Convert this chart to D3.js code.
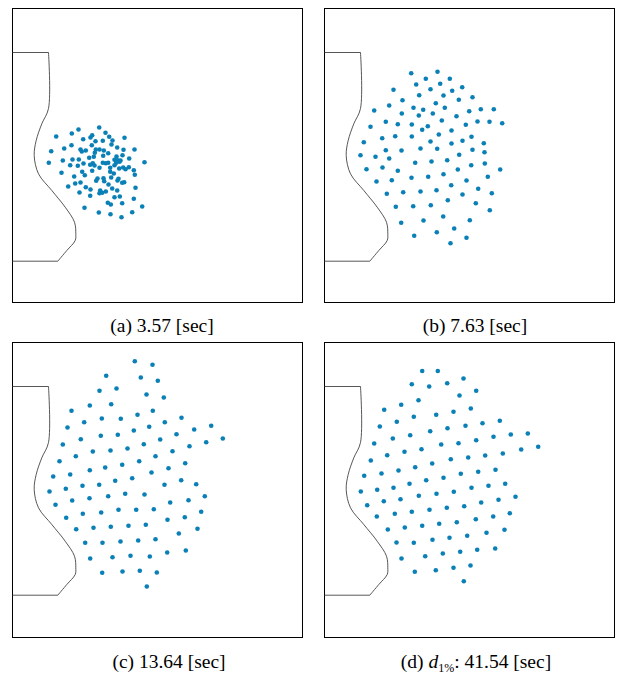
<!DOCTYPE html>
<html>
<head>
<meta charset="utf-8">
<script src="https://cdn.jsdelivr.net/npm/d3@7"></script>
<style>
  body { margin: 0; background: #fff; }
  svg { display: block; }
</style>
</head>
<body>
<svg width="626" height="679"></svg>
<script>
// robot positions per snapshot, panel coords (0..290 x 0..295, y down)
const ptsA = [[86.7,119],[66,121],[59.3,125],[43.7,128],[79.7,126.7],[93,124.3],[78,129],[96.7,128.3],[112,129.3],[70.7,130.7],
  [90.3,132.3],[83,132.7],[100,132],[59,136.7],[79.3,136.7],[99,136],[51.7,140],[104.7,139],[122,141],[38.7,142.7],
  [68,141],[73.3,142],[69.3,143],[83.3,141],[87,141],[91.3,142],[82.3,144.3],[95.7,144.7],[111,141.3],[76.7,149.3],
  [60,151],[66.3,151],[50.3,152],[81.3,148.3],[90.7,147.3],[110,146.7],[104,148],[105.3,151.7],[102,151.3],[108,152],
  [116.7,150],[36.3,154.3],[57.7,156.7],[71,155],[77.7,156.3],[80.3,154.7],[90.3,154.3],[93.3,154.7],[95.7,154.3],[103.7,154.3],
  [107,153.3],[102,156.7],[82,157],[87,159.3],[65.3,157.3],[110.7,159],[116.3,158.7],[132,153.7],[97.7,159.3],[106.7,160],
  [79.7,162.3],[69.7,163.3],[72.3,166.7],[97.7,163.3],[101.3,165],[113,160.7],[49,164.3],[121.3,161.7],[61.7,168],[85,170],
  [91,169.7],[98.7,169],[106,170.3],[122.3,166.3],[83.7,172.3],[91.7,172.7],[105,172],[111.7,173.7],[109.7,174.3],[62.7,175],
  [68,174],[96,176],[55.7,178],[73.3,178.7],[78,181],[99.7,180],[104.7,182],[87.7,182],[93.3,183],[123,179.3],
  [67,184],[89.7,184.3],[87,184.7],[77.7,187.3],[102,188.7],[107.3,188],[121.3,190.3],[95.3,194.3],[98.3,196],[109.7,194.7],
  [129.7,198],[72,199.3],[86.3,204],[98,205.7],[109,208.7],[119.7,203.7]];

const ptsB = [[86.7,64.7],[113,63.3],[101.3,70.3],[125.3,70.3],[91.7,76],[115.7,75.3],[69,81.3],[106,80.7],[137.7,78.7],[127.7,82.3],
  [94.7,86.7],[119,87],[78,91.7],[134.3,91.3],[148,88.7],[64.7,97],[111.3,94.7],[49.7,102],[89,99.3],[98.7,101.3],
  [120.3,99.3],[144.7,102.7],[156.3,100.7],[169.3,100.7],[77.3,105],[94.3,107],[108.3,105],[132,107.7],[61.3,113.3],[73.3,115.7],
  [87.3,116],[103.3,117.7],[117.3,112],[153,113],[165,113.3],[177.7,114.7],[141.3,116.3],[46,118.3],[97.7,121.3],[127,122],
  [70.7,127.7],[87.3,128],[114.3,126],[147,128.3],[39.3,133.7],[57.7,129.7],[106,133],[127,135],[138,132.3],[159.3,134.7],
  [61.3,141.7],[77,142],[96,140],[112.7,140.3],[148,141.3],[160,143.7],[36,146.7],[51,148.3],[134.7,146.3],
  [64.7,150],[42,160.7],[58,159],[73.3,162.3],[90.7,154.3],[107,153],[122.7,151.7],[146.7,156.7],[160.3,155],[133.3,161],
  [175.7,161],[52,173],[67.3,171.7],[87,169.3],[103.7,168.3],[119,165.7],[142,172],[163.3,168.3],[126.7,176.7],[62.3,185.3],
  [78.7,183.7],[96,183],[112,181.7],[138,186],[153.7,180.3],[167.3,184.7],[71.3,198.3],[88.7,197.7],[106.3,196.7],[123.3,191.7],
  [151.3,194.7],[165.3,201.7],[76.7,214.3],[99,212],[118.7,208],[145.3,211.7],[89.7,227.3],[112.3,223.7],[129.7,220],[142,229.3],
  [126,234.7]];

const ptsC = [[122.3,18.7],[93.7,33.3],[87,48.3],[104,46],[77.3,63],[98.7,61.7],[59,68.3],[71.7,79.7],[89.3,76],[108.3,76.3],
  [55,85],[121.3,88],[88.3,93.3],[105.3,92.3],[68.3,96.7],[50.3,102],[80.3,109],[98,108],[115,106],[63.3,113.7],
  [47,118.7],[77.3,127.7],[92.7,125],[109.7,122.3],
  [140,22.3],[128.3,35],[145.3,38.3],[134,52],[151.3,55],[125,72.3],[140.3,68.3],[152.3,79.7],[169,75.3],[136.7,84.3],
  [164,91.7],[181.7,87],[198.7,83.3],[131.3,101.7],[147.7,97],[177,103.7],[193.7,99.7],[210.3,96],[160,108.7],[126.7,118.7],
  [143,113.7],[172.7,120.7],[156,125.7],[139,130],
  [40.7,134],[57.7,132],[37,149],[53.3,146.3],[70,143.3],[86.7,142.3],[102.7,138.3],[119.7,135.7],[43,162.3],[59.7,158],
  [77,155.7],[95.7,153.7],[112.7,151.3],[53.7,175.3],[70.3,171.3],[88.7,170],[106,167.3],[63.7,186.7],[81,185.3],[98.3,184.3],
  [116,183.3],[72.7,200.3],[90,200.3],[108,199],[77.7,216],[100,214.7],[118,213.3],[89.7,230.3],[110,229],
  [132,152],[152,142.3],[168.7,137.7],[183.7,141.7],[157.7,160],[176,157.7],[192.3,153.7],[123.7,167.3],[141.3,166.7],[155,177.3],
  [172.3,174.7],[188.7,169.3],[133.3,182.3],[166.3,191],[185,186.3],[125.7,198],[143,196.7],[154.7,210],[173.3,208],[137.3,214],
  [127.3,228.3],[144.3,230],[134.3,244]];

const ptsD = [[97.7,28.5],[113.3,28.5],[87.3,41.7],[104.7,44],[76.7,62.3],[94,57.7],[59.7,67.3],[89.3,74.3],[111.7,72.3],[72.3,79.3],
  [55.3,84],[85.7,92.7],[105.7,88.7],[49.7,101],[68.3,96],[116.7,102],[80,109.3],[97,106.7],[62.7,112.7],[46.3,118],
  [107.7,121],[39.7,133.3],[57,131],[74,128],[90.7,124.7],
  [139,36],[122.7,40.7],[151.7,48.3],[135,53],[146.3,66],[129,69.3],[175.3,78.3],[158,80.7],[141,83.3],[123,85.7],
  [203.3,91],[186.3,92],[169,94.3],[151.7,97.7],[134,100.7],[213.7,104.3],[196.7,107],[178.3,111],[160.7,113],[143.7,115],
  [126.3,116.7],[136.3,131.3],[153.7,129.3],[171,127.3],
  [119,135.3],[101.7,137.7],[85,141.3],[36.3,149],[52.7,147.3],[69,145.3],[112,151.3],[94.3,153.3],[42.7,162.7],[59.3,158.7],
  [76,156.7],[122.3,165.3],[105,167.3],[87.3,169.3],[52.3,174],[70.3,171.3],[114.7,181.3],[97.7,183.3],[80.3,185],[63.3,187],
  [72,200],[89.3,200.3],[108,197.3],[118.3,211],[100.7,213.7],[77,216],[111.3,227.7],[90.3,229.3],
  [129.3,149.3],[147,145.3],[164,143.3],[180.7,141.3],[139.7,163.7],[156.7,160],[174,157.3],[191,154.3],[132.3,179.7],[151.3,176.7],
  [168.7,174],[185.3,170.7],[125,195.3],[142.7,193.3],[162,190.3],[180,187.3],[135.7,209.3],[152.7,207.3],[170.7,206],[129,225.3],
  [146,223],[139.3,238.7]];

// wall outline, same coords
const wallTop = [[0,44],[36,44]];
const wallCurve = [[36,44],[36,100],[29.3,115.3],[23.7,132],[21.7,147],[26,165.3],[39.3,182],[52.7,198.7],
  [62,213.7],[63.3,225.3],[62.7,232],[54.3,242],[45.3,252.7]];
const wallBottom = [[45.3,252.7],[0,252.7]];

const captions = ["(a) 3.57 [sec]", "(b) 7.63 [sec]", "(c) 13.64 [sec]", "(d) 41.54 [sec]"];

const panels = [
  {pts: ptsA, x: 12.5, y: 8.5, h: 294, cap: captions[0], cx: 162, cy: 332},
  {pts: ptsB, x: 324.5, y: 8.5, h: 294, cap: captions[1], cx: 475, cy: 332},
  {pts: ptsC, x: 12.5, y: 342.5, h: 295, cap: captions[2], cx: 169, cy: 668},
  {pts: ptsD, x: 324.5, y: 342.5, h: 295, cap: captions[3], cx: 476, cy: 668, special: true}
];

const svg = d3.select("svg");
const W = 290;

panels.forEach(p => {
  const g = svg.append("g").attr("transform", `translate(${p.x},${p.y})`);
  const x = d3.scaleLinear().domain([0, 290]).range([0, W]);
  const y = d3.scaleLinear().domain([0, 295]).range([0, 295]);

  g.append("rect")
    .attr("width", W).attr("height", p.h)
    .attr("fill", "none").attr("stroke", "#000").attr("stroke-width", 1);

  const straight = d3.line().x(d => x(d[0])).y(d => y(d[1]));
  const curvy = d3.line().x(d => x(d[0])).y(d => y(d[1])).curve(d3.curveCatmullRom.alpha(0.5));

  [wallTop, wallBottom].forEach(w => {
    g.append("path").attr("d", straight(w))
      .attr("fill", "none").attr("stroke", "#444").attr("stroke-width", 0.9);
  });
  g.append("path").attr("d", curvy(wallCurve))
    .attr("fill", "none").attr("stroke", "#444").attr("stroke-width", 0.9);

  g.selectAll("circle")
    .data(p.pts)
    .enter()
    .append("circle")
    .attr("cx", d => x(d[0]))
    .attr("cy", d => y(d[1]))
    .attr("r", 2.3)
    .style("fill", "#0a80b6");

  const t = svg.append("text")
    .attr("x", p.cx).attr("y", p.cy)
    .attr("text-anchor", "middle")
    .style("font-family", "'Liberation Serif', 'DejaVu Serif', serif")
    .style("font-size", "19.5px")
    .style("fill", "#000");
  if (p.special) {
    t.append("tspan").text("(d) ");
    t.append("tspan").style("font-style", "italic").text("d");
    t.append("tspan").attr("dy", 4).style("font-size", "12px").text("1%");
    t.append("tspan").attr("dy", -4).text(": 41.54 [sec]");
  } else {
    t.text(p.cap);
  }
});
</script>
</body>
</html>
